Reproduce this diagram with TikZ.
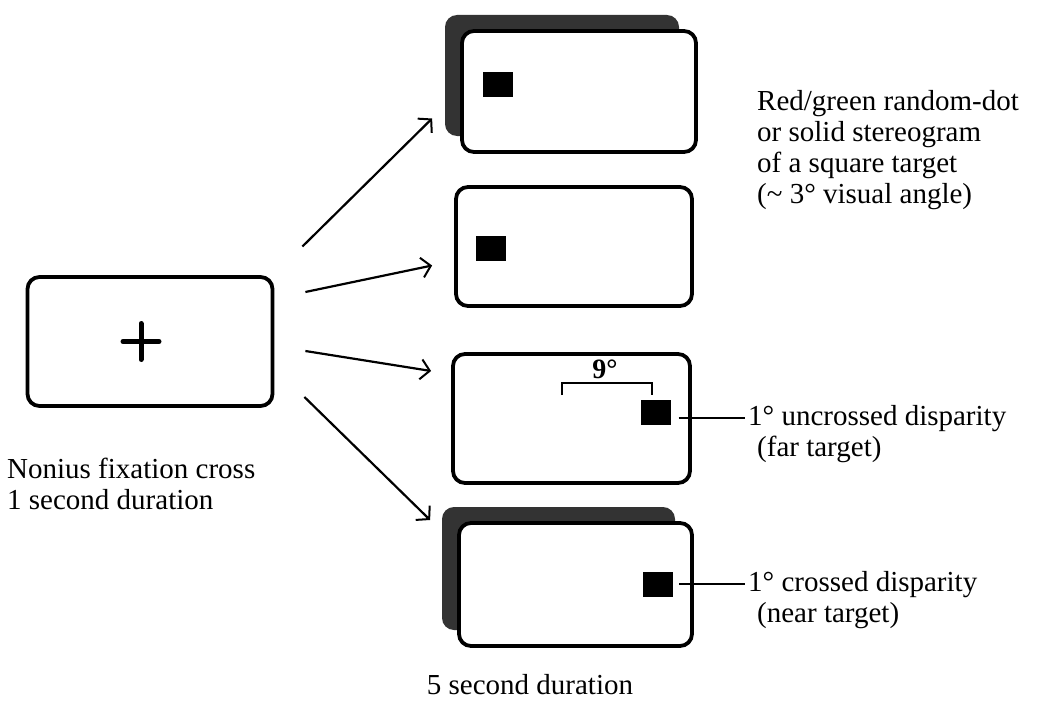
\documentclass[tikz,border=0pt]{standalone}
\usepackage{fontspec}
\setmainfont{Liberation Serif}
\usetikzlibrary{positioning,arrows.meta,shadows,calc}

\begin{document}
\begin{tikzpicture}[x=1pt,y=-1pt,
  screen/.style={draw, line width=3.8pt, rounded corners=12pt, fill=white, inner sep=0pt},
  stack/.style={screen, general shadow={fill=black!80, shadow xshift=-17pt, shadow yshift=16pt}},
  target/.style={fill=black, inner sep=0pt, minimum width=30pt, minimum height=25pt},
  arr/.style={line width=2.2pt, -{Straight Barb[length=9pt,width=20pt,line width=2pt]}},
  leader/.style={line width=1.4pt},
  lbl/.style={font=\fontsize{29}{31}\selectfont, align=left, inner sep=3pt}]
\useasboundingbox (0,0) rectangle (1037,717);

% Fixation screen
\node[screen, minimum width=245pt, minimum height=129pt] (fix) at (150,341.5) {};
\draw[line width=5pt, line cap=round] ([shift={(-27,0)}]fix.center) -- ([shift={(9,0)}]fix.center);
\draw[line width=5pt, line cap=round] ([shift={(-9,-18)}]fix.center) -- ([shift={(-9,18)}]fix.center);

% Stimulus screens
\node[stack, minimum width=234pt, minimum height=121pt] (b1) at (579,91.5) {};
\node[screen, minimum width=236pt, minimum height=119pt] (b2) at (574,246.5) {};
\node[screen, minimum width=237pt, minimum height=129pt] (b3) at (571.5,418.5) {};
\node[stack, minimum width=233pt, minimum height=123pt] (b4) at (575.5,584.5) {};

% Targets
\node[target] (t1) at (498,85) {};
\node[target] (t2) at (491,248) {};
\node[target] (t3) at (655.5,412) {};
\node[target] (t4) at (658,584) {};

% Arrows
\draw[arr] ([shift={(28,-95)}]fix.east) -- ([shift={(-28,27)}]b1.west);
\draw[arr] ([shift={(31,-49.5)}]fix.east) -- ([shift={(-22,19)}]b2.west);
\draw[arr] ([shift={(31,9.5)}]fix.east) -- ([shift={(-20,-47.5)}]b3.west);
\draw[arr] ([shift={(30,55.5)}]fix.east) -- ([shift={(-27,-64.5)}]b4.west);

% Eccentricity bracket
\draw[line width=1.1pt] (562,395) |- (652,383) -- (652,395);
\node[lbl, font=\fontsize{28}{30}\selectfont\bfseries] (ecc) at (605,369) {9°};

% Labels
\node[lbl, anchor=west] (fixlbl) at (4,484) {Nonius fixation cross\\1 second duration};
\node[lbl, anchor=west] (stim) at (754,150) {Red/green random-dot\\or solid stereogram\\of a square target\\(\textasciitilde{} 3° visual angle)};
\node[lbl, anchor=west] (far) at (745,434.5) {1° uncrossed disparity\\\hspace{9pt}(far target)};
\node[lbl, anchor=west] (near) at (745,600.5) {1° crossed disparity\\\hspace{9pt}(near target)};
\node[lbl] (dur) at (530,685) {5 second duration};

% Leaders
\draw[leader] ([shift={(8,6)}]t3.east) -- ([shift={(0,-16.5)}]far.west);
\draw[leader] ([shift={(6,0)}]t4.east) -- ([shift={(0,-16.5)}]near.west);
\end{tikzpicture}
\end{document}
